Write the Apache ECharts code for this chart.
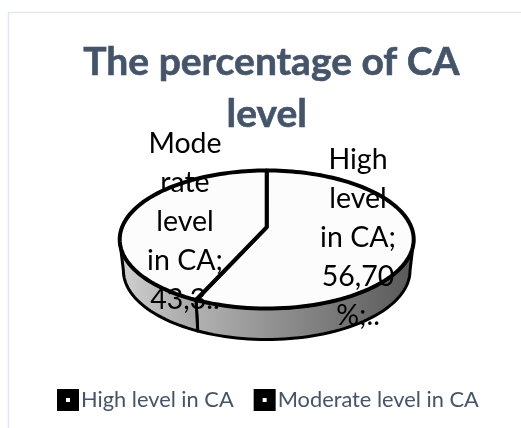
<!DOCTYPE html>
<html>
<head>
<meta charset="utf-8">
<style>
  html, body { margin: 0; padding: 0; background: #fff; }
  #main { width: 521px; height: 428px; }
</style>
<script src="https://cdn.jsdelivr.net/npm/echarts@6/dist/echarts.min.js"></script>
</head>
<body>
<div id="main"></div>
<script>
const categories = ["High level in CA", "Moderate level in CA"];
const percentValues = [56.7, 43.3];
const sliceLabels = [
  "High\nlevel\nin CA;\n56,70\n%;..",
  "Mode\nrate\nlevel\nin CA;\n43,3.."
];
const titleText = "The percentage of CA\nlevel\u00a0";

const cx = 266.7, cy = 239.5, rx = 147, ry = 69, depth = 31;
const bottomScale = 0.975; // lower rim is a bit narrower than the top face
const persp = -0.18; // pulls the pie centre up, like the tilted 3D pie
const labelPos = [[358, 238], [185, 222]];
const sideColors = [
  [[0, "#b2b2b2"], [0.35, "#929292"], [1, "#585858"]],
  [[0, "#d2d2d2"], [1, "#a4a4a4"]]
];

function project(deg) {
  const a = (deg * Math.PI) / 180;
  const u = Math.sin(a), v = -Math.cos(a);
  const w = 1 + persp * v;
  return [
    cx + (rx * u * Math.sqrt(1 - persp * persp)) / w,
    cy + (ry * (v + persp)) / w
  ];
}

function arcPoints(from, to) {
  const pts = [];
  const n = Math.max(2, Math.ceil(Math.abs(to - from) / 2));
  for (let i = 0; i <= n; i++) pts.push(project(from + ((to - from) * i) / n));
  return pts;
}

// front part of the rim, the only angles where the side wall shows
const frontStart = (Math.acos(persp) * 180) / Math.PI;
const frontEnd = 360 - frontStart;

function sliceRenderer(idx) {
  return function (params, api) {
    const start = api.value(0), value = api.value(1);
    const total = percentValues.reduce((a, b) => a + b, 0);
    const from = (start / total) * 360;
    const to = ((start + value) / total) * 360;
    const centre = [cx, cy + ry * persp];
    const children = [];

    const sFrom = Math.max(from, frontStart), sTo = Math.min(to, frontEnd);
    if (sTo > sFrom) {
      const top = arcPoints(sFrom, sTo);
      const bottom = top
        .map((p) => [cx + (p[0] - cx) * bottomScale, p[1] + depth])
        .reverse();
      children.push({
        type: "polygon",
        shape: { points: top.concat(bottom) },
        style: {
          fill: new echarts.graphic.LinearGradient(0, 0, 1, 0,
            sideColors[idx].map((c) => ({ offset: c[0], color: c[1] }))),
          stroke: "#000",
          lineWidth: 3,
          lineJoin: "round"
        },
        z2: 1
      });
    }

    children.push({
      type: "polygon",
      shape: { points: [centre].concat(arcPoints(from, to)) },
      style: { fill: "#fcfcfc", stroke: "#000", lineWidth: 4, lineJoin: "round" },
      z2: 5
    });

    children.push({
      type: "text",
      style: {
        text: sliceLabels[idx],
        x: labelPos[idx][0],
        y: labelPos[idx][1],
        align: "center",
        verticalAlign: "middle",
        fill: "#000",
        font: "28.5px Lato",
        lineHeight: 39
      },
      z2: 50
    });

    return { type: "group", children: children };
  };
}

const chart = echarts.init(document.getElementById("main"), null, { renderer: "canvas" });

let running = 0;
const series = categories.map((name, i) => {
  const row = [running, percentValues[i]];
  running += percentValues[i];
  return {
    name: name,
    type: "custom",
    coordinateSystem: "none",
    renderItem: sliceRenderer(i),
    data: [row],
    itemStyle: { color: "#000" },
    animation: false,
    silent: true
  };
});

chart.setOption({
  animation: false,
  backgroundColor: "#fff",
  title: {
    text: titleText,
    textAlign: "center",
    top: 31,
    left: 266.5,
    textStyle: {
      color: "#44546a",
      fontFamily: "Lato",
      fontWeight: "bold",
      fontSize: 39,
      lineHeight: 52,
      textBorderColor: "#44546a",
      textBorderWidth: 0.6
    }
  },
  legend: {
    data: categories,
    left: 52,
    top: 384,
    itemWidth: 22,
    itemHeight: 22,
    itemGap: 20,
    icon: "path://M0 0H22V22H0ZM9 9V13H13V9Z",
    textStyle: { color: "#44546a", fontFamily: "Lato", fontSize: 21.8, padding: [0, 0, 0, -3] }
  },
  graphic: [
    {
      type: "polyline",
      shape: { points: [[8.5, 428], [8.5, 12.5], [521, 12.5]] },
      style: { fill: "none", stroke: "#e3e8ef", lineWidth: 1.5 },
      silent: true
    }
  ],
  series: series
});
</script>
</body>
</html>
